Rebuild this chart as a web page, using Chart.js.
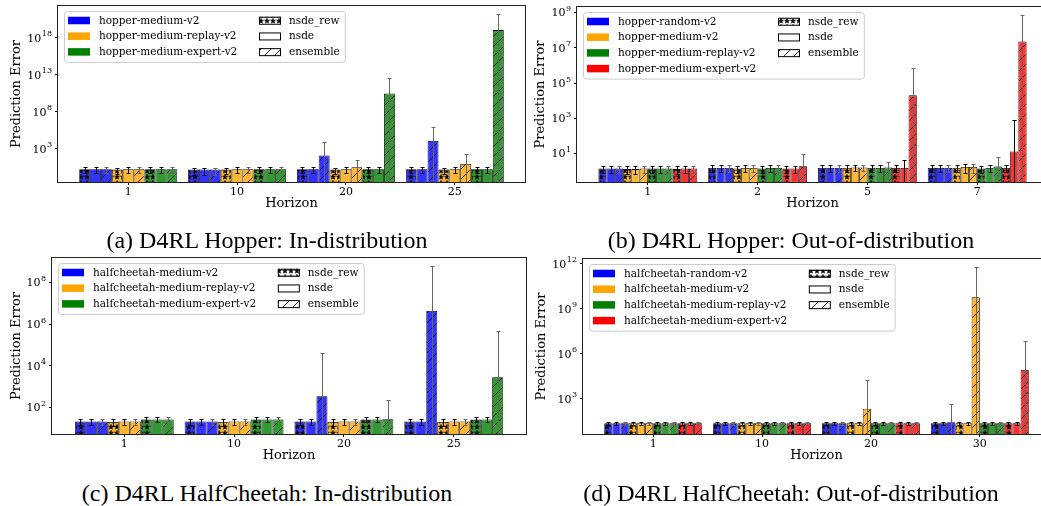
<!DOCTYPE html>
<html>
<head>
<meta charset="utf-8">
<script src="https://cdn.jsdelivr.net/npm/chart.js@4.4.0/dist/chart.umd.min.js"></script>
<style>
  html, body { margin: 0; padding: 0; background: #fff; overflow: hidden; }
  body { width: 1041px; height: 506px; position: relative; }
  canvas { position: absolute; }
  .caption {
    position: absolute; width: 520px; text-align: center; white-space: nowrap;
    font-family: 'Liberation Serif', 'Times New Roman', serif; font-size: 24px; line-height: 24px; color: #000;
  }
</style>
</head>
<body>
<canvas id="chartA" width="526" height="212" style="left:0;top:0"></canvas>
<canvas id="chartB" width="529" height="212" style="left:520px;top:0"></canvas>
<canvas id="chartC" width="527" height="214" style="left:0;top:250px"></canvas>
<canvas id="chartD" width="531" height="214" style="left:520px;top:250px"></canvas>
<div class="caption" style="left:7px;top:228px">(a) D4RL Hopper: In-distribution</div>
<div class="caption" style="left:531px;top:228px">(b) D4RL Hopper: Out-of-distribution</div>
<div class="caption" style="left:7px;top:481px">(c) D4RL HalfCheetah: In-distribution</div>
<div class="caption" style="left:531px;top:481px">(d) D4RL HalfCheetah: Out-of-distribution</div>
<script>
// methods, in the order bars appear inside each env block
const methods = ['nsde_rew', 'nsde', 'ensemble']

// (a) hopper, in-distribution
const aHorizons = ['1', '10', '20', '25']
const aEnvs = ['hopper-medium-v2', 'hopper-medium-replay-v2', 'hopper-medium-expert-v2']
const aMean = [
    [1.7, 1.5, 1.7, 1.7],
    [1.7, 1.5, 1.7, 1.7],
    [1.7, 1.5, 125, 1.1e4],
    [1.6, 1.6, 1.6, 1.6],
    [1.7, 1.7, 1.7, 1.7],
    [1.7, 1.7, 3.2, 8.5],
    [1.7, 1.7, 1.7, 1.7],
    [1.7, 1.7, 1.7, 1.7],
    [1.7, 1.7, 3e10, 1.1e19],
]
const aErr = [
    [1.2, 1.2, 1.2, 1.2],
    [1.2, 1.2, 1.2, 1.2],
    [1.2, 1.2, 8800, 8e5],
    [1.2, 1.2, 1.2, 1.2],
    [1.2, 1.2, 1.2, 1.2],
    [1.2, 1.2, 29, 165],
    [1.2, 1.2, 1.2, 1.2],
    [1.2, 1.2, 1.2, 1.2],
    [1.2, 1.2, 4e12, 1.6e21],
]
const aTicks = [1e3, 1e8, 1e13, 1e18]

// (b) hopper, out-of-distribution
const bHorizons = ['1', '2', '5', '7']
const bEnvs = ['hopper-random-v2', 'hopper-medium-v2', 'hopper-medium-replay-v2', 'hopper-medium-expert-v2']
const bMean = [
    [1.4, 1.5, 1.5, 1.5],
    [1.4, 1.5, 1.5, 1.5],
    [1.4, 1.5, 1.5, 1.5],
    [1.3, 1.4, 1.5, 1.5],
    [1.3, 1.5, 1.6, 1.7],
    [1.4, 1.5, 1.6, 1.7],
    [1.4, 1.4, 1.5, 1.4],
    [1.4, 1.5, 1.5, 1.5],
    [1.4, 1.5, 1.6, 1.8],
    [1.3, 1.4, 1.5, 1.5],
    [1.4, 1.4, 1.5, 13],
    [1.4, 1.9, 2e4, 2.3e7],
]
const bErr = [
    [0.6, 0.6, 0.6, 0.6],
    [0.6, 0.6, 0.6, 0.6],
    [0.6, 0.6, 0.6, 0.6],
    [0.6, 0.6, 0.6, 0.6],
    [0.6, 0.6, 0.6, 0.9],
    [0.6, 0.6, 0.6, 0.9],
    [0.6, 0.6, 0.6, 0.6],
    [0.6, 0.6, 0.6, 0.6],
    [0.6, 0.6, 1.5, 4.5],
    [0.6, 0.6, 0.6, 0.6],
    [0.6, 0.6, 2.5, 750],
    [0.6, 8, 7e5, 6.7e8],
]
const bTicks = [1e1, 1e3, 1e5, 1e7, 1e9]

// (c) halfcheetah, in-distribution
const cHorizons = ['1', '10', '20', '25']
const cEnvs = ['halfcheetah-medium-v2', 'halfcheetah-medium-replay-v2', 'halfcheetah-medium-expert-v2']
const cMean = [
    [21, 21, 21, 21],
    [21, 21, 21, 21],
    [21, 21, 340, 4.2e6],
    [20, 20, 20, 20],
    [21, 21, 21, 21],
    [21, 21, 21, 21],
    [26, 26, 26, 26],
    [26, 26, 26, 26],
    [26, 26, 27, 2800],
]
const cErr = [
    [7, 7, 7, 7],
    [7, 7, 7, 7],
    [7, 7, 4.2e4, 5.9e8],
    [7, 7, 7, 7],
    [7, 7, 7, 7],
    [7, 7, 7, 7],
    [7, 7, 7, 7],
    [7, 7, 7, 7],
    [7, 7, 200, 4.8e5],
]
const cTicks = [1e2, 1e4, 1e6, 1e8]

// (d) halfcheetah, out-of-distribution
const dHorizons = ['1', '10', '20', '30']
const dEnvs = ['halfcheetah-random-v2', 'halfcheetah-medium-v2', 'halfcheetah-medium-replay-v2', 'halfcheetah-medium-expert-v2']
const dMean = [
    [23, 23, 23, 23],
    [23, 23, 23, 23],
    [23, 23, 23, 27],
    [23, 23, 23, 23],
    [23, 23, 23, 23],
    [23, 23, 215, 5.7e9],
    [23, 23, 23, 23],
    [23, 23, 23, 23],
    [23, 23, 23, 23],
    [23, 23, 23, 23],
    [23, 23, 23, 23],
    [23, 23, 23, 8.2e4],
]
const dErr = [
    [5, 5, 5, 5],
    [5, 5, 5, 5],
    [5, 5, 5, 400],
    [5, 5, 5, 5],
    [5, 5, 5, 5],
    [5, 5, 1.8e4, 6.2e11],
    [5, 5, 5, 5],
    [5, 5, 5, 5],
    [5, 5, 5, 5],
    [5, 5, 5, 5],
    [5, 5, 5, 5],
    [5, 5, 5, 6.7e6],
]
const dTicks = [1e3, 1e6, 1e9, 1e12]

// colours: matplotlib named colours, bars at alpha 0.8 over white
const pure = { blue: '#0000ff', orange: '#ffa500', green: '#008000', red: '#ff0000' }
const faded = { blue: '#3333ff', orange: '#ffb733', green: '#339933', red: '#ff3333' }
const hatches = ['star', 'none', 'slash']

Chart.defaults.font.family = '"DejaVu Serif", serif'
Chart.defaults.color = '#000'

function starPath(g, cx, cy, r) {
    g.beginPath()
    for (let i = 0; i < 10; i++) {
        const rr = i % 2 ? r * 0.42 : r
        const a = -Math.PI / 2 + (i * Math.PI) / 5
        const x = cx + rr * Math.cos(a)
        const y = cy + rr * Math.sin(a)
        i ? g.lineTo(x, y) : g.moveTo(x, y)
    }
    g.closePath()
}

function makePattern(bg, kind) {
    const size = kind === 'star' ? 6 : 10
    const c = document.createElement('canvas')
    c.width = size
    c.height = size
    const g = c.getContext('2d')
    g.fillStyle = bg
    g.fillRect(0, 0, size, size)
    g.strokeStyle = '#111'
    g.fillStyle = '#111'
    g.lineWidth = 0.9
    if (kind === 'slash') {
        g.beginPath()
        g.moveTo(0, size)
        g.lineTo(size, 0)
        g.moveTo(-2, 2)
        g.lineTo(2, -2)
        g.moveTo(size - 2, size + 2)
        g.lineTo(size + 2, size - 2)
        g.stroke()
    } else if (kind === 'star') {
        starPath(g, size / 2, size / 2, 2.7)
        g.fill()
        g.lineWidth = 0.6
        g.stroke()
    }
    return g.createPattern(c, 'repeat')
}

function buildDatasets(envs, colors, mean, err) {
    const sets = []
    envs.forEach((env, e) => {
        methods.forEach((m, k) => {
            const row = e * methods.length + k
            sets.push({
                label: env + ' ' + m,
                data: mean[row].map((v, i) => ({ x: i, y: v })),
                errors: err[row],
                errorColor: m === 'ensemble' ? '#666' : '#000',
                backgroundColor: makePattern(faded[colors[e]], hatches[k]),
                borderColor: '#000',
                borderWidth: 0.8,
            })
        })
    })
    return sets
}

// log tick labels as 10 with a raised exponent, placed from the y scale
const powTicksPlugin = {
    id: 'powTicks',
    afterDraw(chart) {
        const { ctx, chartArea: a } = chart
        const y = chart.scales.y
        const right = a.left - 6
        ctx.save()
        ctx.fillStyle = '#000'
        ctx.textBaseline = 'middle'
        ctx.textAlign = 'left'
        y.ticks.forEach(t => {
            const py = y.getPixelForValue(t.value)
            const exp = String(Math.round(Math.log10(t.value)))
            ctx.font = '8px "DejaVu Serif"'
            const ew = ctx.measureText(exp).width
            ctx.font = '11px "DejaVu Serif"'
            const bw = ctx.measureText('10').width
            ctx.fillText('10', right - ew - bw - 0.5, py + 1)
            ctx.font = '8px "DejaVu Serif"'
            ctx.fillText(exp, right - ew, py - 3.5)
        })
        ctx.restore()
    },
}

const framePlugin = {
    id: 'frame',
    afterDraw(chart) {
        const { ctx, chartArea: a } = chart
        ctx.save()
        ctx.strokeStyle = '#222'
        ctx.lineWidth = 1
        ctx.strokeRect(Math.round(a.left) - 0.5, Math.round(a.top) - 0.5,
            Math.round(a.right - a.left) + 1, Math.round(a.bottom - a.top) + 1)
        ctx.restore()
    },
}

const errorBarPlugin = {
    id: 'errorBars',
    afterDatasetsDraw(chart) {
        const { ctx, chartArea: a } = chart
        const y = chart.scales.y
        ctx.save()
        ctx.beginPath()
        ctx.rect(a.left, a.top, a.right - a.left, a.bottom - a.top)
        ctx.clip()
        ctx.lineWidth = 1
        chart.data.datasets.forEach((ds, i) => {
            chart.getDatasetMeta(i).data.forEach((bar, j) => {
                const v = ds.data[j].y
                const e = ds.errors[j]
                const x = Math.round(bar.x) + 0.5
                const top = Math.round(y.getPixelForValue(v + e)) + 0.5
                const low = v - e > 0 ? Math.round(y.getPixelForValue(v - e)) + 0.5 : a.bottom + 5
                ctx.strokeStyle = ds.errorColor
                ctx.beginPath()
                ctx.moveTo(x, top)
                ctx.lineTo(x, low)
                ctx.moveTo(x - 2, top)
                ctx.lineTo(x + 2, top)
                ctx.moveTo(x - 2, low)
                ctx.lineTo(x + 2, low)
                ctx.stroke()
            })
        })
        ctx.restore()
    },
}

const legendPlugin = {
    id: 'boxLegend',
    afterDraw(chart, args, opts) {
        const { ctx, chartArea: a } = chart
        ctx.save()
        ctx.font = '10.5px "DejaVu Serif"'
        const rowH = 15.7
        const x0 = a.left + 6
        const y0 = a.top + 5
        const envW = Math.max(...opts.envs.map(t => ctx.measureText(t).width))
        const methW = Math.max(...methods.map(t => ctx.measureText(t).width))
        const textX1 = x0 + 35
        const patchX2 = textX1 + envW + 21.7
        const textX2 = patchX2 + 30
        const w = textX2 + methW + 5 - x0
        const rows = Math.max(opts.envs.length, methods.length)
        const h = 9.5 + (rows - 1) * rowH + 10

        ctx.beginPath()
        ctx.roundRect(x0 + 0.5, y0 + 0.5, w, h, 3)
        ctx.fillStyle = 'rgba(255,255,255,0.8)'
        ctx.fill()
        ctx.strokeStyle = '#cccccc'
        ctx.lineWidth = 1
        ctx.stroke()

        ctx.textBaseline = 'middle'
        opts.envs.forEach((t, i) => {
            const cy = y0 + 9.5 + i * rowH
            ctx.fillStyle = pure[opts.colors[i]]
            ctx.fillRect(x0 + 4, cy - 3.75, 22, 7.5)
            ctx.fillStyle = '#000'
            ctx.fillText(t, textX1, cy + 0.5)
        })
        methods.forEach((t, i) => {
            const cy = y0 + 9.5 + i * rowH
            ctx.fillStyle = makePattern('#ffffff', hatches[i])
            ctx.fillRect(patchX2, cy - 3.75, 22, 7.5)
            ctx.strokeStyle = '#000'
            ctx.lineWidth = 1
            ctx.strokeRect(patchX2 + 0.5, cy - 3.25, 21, 7)
            ctx.fillStyle = '#000'
            ctx.fillText(t, textX2, cy + 0.5)
        })
        ctx.restore()
    },
}

function makeChart(id, p) {
    return new Chart(document.getElementById(id), {
        type: 'bar',
        data: { datasets: buildDatasets(p.envs, p.colors, p.mean, p.err) },
        options: {
            responsive: false,
            animation: false,
            events: [],
            layout: { padding: { top: p.padTop, right: 1, left: 0, bottom: 0 } },
            datasets: { bar: { categoryPercentage: 0.9, barPercentage: 1 } },
            plugins: {
                legend: { display: false },
                tooltip: { enabled: false },
                boxLegend: { envs: p.envs, colors: p.colors },
            },
            scales: {
                x: {
                    type: 'linear',
                    bounds: 'data',
                    min: -p.margin,
                    max: p.horizons.length - 1 + p.margin,
                    offset: false,
                    grid: { offset: false, drawOnChartArea: false, tickLength: 3, color: '#000' },
                    border: { display: false },
                    ticks: {
                        font: { size: 11 },
                        padding: 1,
                        autoSkip: false,
                        maxRotation: 0,
                        callback: v => p.horizons[v],
                    },
                    afterBuildTicks: s => {
                        s.ticks = p.horizons.map((h, i) => ({ value: i }))
                    },
                    afterFit: s => {
                        s.height = 30
                    },
                    title: {
                        display: true,
                        text: 'Horizon',
                        font: { size: 13 },
                        padding: { top: 0, bottom: 1 },
                    },
                },
                y: {
                    type: 'logarithmic',
                    bounds: 'data',
                    min: p.yMin,
                    max: p.yMax,
                    grid: { drawOnChartArea: false, tickLength: 3, color: '#000' },
                    border: { display: false },
                    ticks: { display: false, autoSkip: false },
                    afterBuildTicks: s => {
                        s.ticks = p.yTicks.map(v => ({ value: v }))
                    },
                    afterFit: s => {
                        s.width = p.yWidth
                    },
                    title: {
                        display: true,
                        text: 'Prediction Error',
                        font: { size: 13 },
                        padding: { top: p.titlePad, bottom: 0 },
                    },
                },
            },
        },
        plugins: [errorBarPlugin, framePlugin, powTicksPlugin, legendPlugin],
    })
}

makeChart('chartA', {
    envs: aEnvs, colors: ['blue', 'orange', 'green'], mean: aMean, err: aErr,
    horizons: aHorizons, yTicks: aTicks,
    yMin: Math.pow(10, -1.5), yMax: Math.pow(10, 22.3),
    padTop: 6, yWidth: 58, titlePad: 9, margin: 0.645,
})
makeChart('chartB', {
    envs: bEnvs, colors: ['blue', 'orange', 'green', 'red'], mean: bMean, err: bErr,
    horizons: bHorizons, yTicks: bTicks,
    yMin: Math.pow(10, -0.62), yMax: Math.pow(10, 9.32),
    padTop: 7, yWidth: 57, titlePad: 13, margin: 0.645,
})
makeChart('chartC', {
    envs: cEnvs, colors: ['blue', 'orange', 'green'], mean: cMean, err: cErr,
    horizons: cHorizons, yTicks: cTicks,
    yMin: Math.pow(10, 0.72), yMax: Math.pow(10, 9.17),
    padTop: 8, yWidth: 52, titlePad: 9, margin: 0.658,
})
makeChart('chartD', {
    envs: dEnvs, colors: ['blue', 'orange', 'green', 'red'], mean: dMean, err: dErr,
    horizons: dHorizons, yTicks: dTicks,
    yMin: Math.pow(10, 0.65), yMax: Math.pow(10, 12.31),
    padTop: 9, yWidth: 63, titlePad: 14, margin: 0.645,
})
</script>
</body>
</html>
